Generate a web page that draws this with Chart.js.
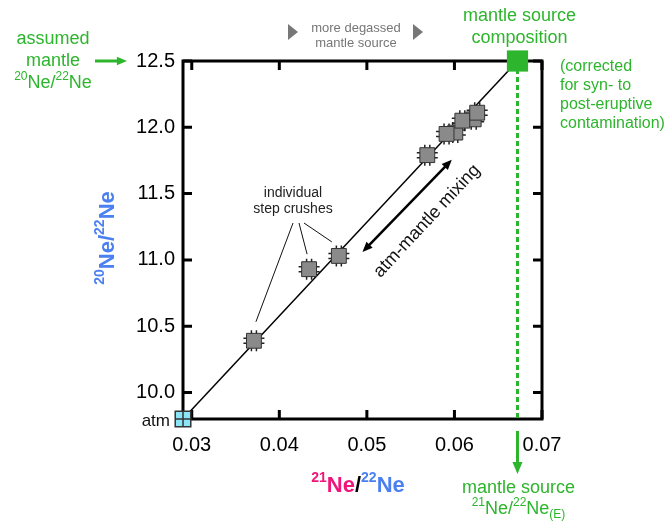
<!DOCTYPE html>
<html>
<head>
<meta charset="utf-8">
<script src="https://cdn.jsdelivr.net/npm/chart.js@4/dist/chart.umd.min.js"></script>
<style>
  body { margin: 0; background: #fff; }
  canvas { display: block; }
</style>
</head>
<body>
<canvas id="neonChart" width="666" height="521"></canvas>
<script>
// Ne isotope three-isotope plot: step crushes on the atm-mantle mixing line
const xTicks = [0.03, 0.04, 0.05, 0.06, 0.07];
const yTicks = [10.0, 10.5, 11.0, 11.5, 12.0, 12.5];

const atmX = 0.029, atmY = 9.8;
const mantleX = 0.0672, mantleY = 12.5;

// step crushes (drawn in this order, later ones on top)
const crushX = [0.0371, 0.0434, 0.0468, 0.0569, 0.0601, 0.0591, 0.0622, 0.0609, 0.0626];
const crushY = [10.39, 10.93, 11.03, 11.79, 11.96, 11.95, 12.06, 12.05, 12.11];

const FONT = '"Liberation Sans", Arial, sans-serif';
const GREEN = "#2db52d";
const PINK = "#f0157a";
const BLUE = "#4a80f0";

function rich(ctx, segs, x, y, size, align) {
  let w = 0;
  segs.forEach(s => {
    const fs = s.sup || s.sub ? Math.round(size * 0.65) : size;
    ctx.font = (s.bold ? "bold " : "") + fs + "px " + FONT;
    s.w = ctx.measureText(s.t).width;
    s.fs = fs;
    w += s.w;
  });
  let cx = align === "center" ? x - w / 2 : x;
  ctx.textAlign = "left";
  ctx.textBaseline = "middle";
  segs.forEach(s => {
    ctx.font = (s.bold ? "bold " : "") + s.fs + "px " + FONT;
    ctx.fillStyle = s.c;
    const dy = s.sup ? -size * 0.36 : s.sub ? size * 0.3 : 0;
    ctx.fillText(s.t, cx, y + dy);
    cx += s.w;
  });
}

function arrow(ctx, x1, y1, x2, y2, color, lw, head, both) {
  const a = Math.atan2(y2 - y1, x2 - x1);
  ctx.save();
  ctx.strokeStyle = color;
  ctx.fillStyle = color;
  ctx.lineWidth = lw;
  ctx.beginPath();
  ctx.moveTo(x1 + (both ? Math.cos(a) * head * 0.8 : 0), y1 + (both ? Math.sin(a) * head * 0.8 : 0));
  ctx.lineTo(x2 - Math.cos(a) * head * 0.8, y2 - Math.sin(a) * head * 0.8);
  ctx.stroke();
  const tip = (x, y, ang) => {
    ctx.beginPath();
    ctx.moveTo(x, y);
    ctx.lineTo(x - head * Math.cos(ang - 0.4), y - head * Math.sin(ang - 0.4));
    ctx.lineTo(x - head * Math.cos(ang + 0.4), y - head * Math.sin(ang + 0.4));
    ctx.closePath();
    ctx.fill();
  };
  tip(x2, y2, a);
  if (both) tip(x1, y1, a + Math.PI);
  ctx.restore();
}

const framePlugin = {
  id: "frame",
  beforeDatasetsDraw(chart) {
    const { ctx, chartArea: ca, scales } = chart;
    ctx.save();
    ctx.strokeStyle = "#000";
    ctx.lineWidth = 3;
    ctx.beginPath();
    xTicks.forEach(v => {
      const px = scales.x.getPixelForValue(v);
      ctx.moveTo(px, ca.bottom); ctx.lineTo(px, ca.bottom - 9);
      ctx.moveTo(px, ca.top); ctx.lineTo(px, ca.top + 9);
    });
    yTicks.forEach(v => {
      const py = scales.y.getPixelForValue(v);
      ctx.moveTo(ca.left, py); ctx.lineTo(ca.left + 9, py);
      ctx.moveTo(ca.right, py); ctx.lineTo(ca.right - 9, py);
    });
    ctx.stroke();
    ctx.strokeRect(ca.left, ca.top, ca.right - ca.left, ca.bottom - ca.top);

    // dashed projection of the mantle source down to the x axis
    const mx = scales.x.getPixelForValue(mantleX);
    ctx.strokeStyle = GREEN;
    ctx.setLineDash([5, 3]);
    ctx.beginPath();
    ctx.moveTo(mx, scales.y.getPixelForValue(mantleY));
    ctx.lineTo(mx, ca.bottom);
    ctx.stroke();
    ctx.setLineDash([]);

    // pins round each crush square
    ctx.strokeStyle = "#222";
    ctx.lineWidth = 1.5;
    ctx.beginPath();
    chart.getDatasetMeta(1).data.forEach(p => {
      const h = 7, l = 3.5;
      [-2.5, 2.5].forEach(o => {
        ctx.moveTo(p.x - h - l, p.y + o); ctx.lineTo(p.x + h + l, p.y + o);
        ctx.moveTo(p.x + o, p.y - h - l); ctx.lineTo(p.x + o, p.y + h + l);
      });
    });
    ctx.stroke();
    ctx.restore();
  },
  afterDatasetsDraw(chart) {
    const { ctx, chartArea: ca, scales } = chart;
    ctx.save();
    // cross inside the atm marker
    const a = chart.getDatasetMeta(2).data[0];
    ctx.strokeStyle = "#333";
    ctx.lineWidth = 1.5;
    ctx.beginPath();
    ctx.moveTo(a.x - 7.5, a.y); ctx.lineTo(a.x + 7.5, a.y);
    ctx.moveTo(a.x, a.y - 7.5); ctx.lineTo(a.x, a.y + 7.5);
    ctx.stroke();

    const pts = chart.getDatasetMeta(1).data;
    // callouts for the step crushes
    ctx.strokeStyle = "#111";
    ctx.lineWidth = 1;
    ctx.beginPath();
    [[0, 293, 2, -19], [1, 299, -2, -15], [2, 304, -7, -14]].forEach(([i, sx, ex, ey]) => {
      ctx.moveTo(sx, 223);
      ctx.lineTo(pts[i].x + ex, pts[i].y + ey);
    });
    ctx.stroke();
    ctx.font = "14px " + FONT;
    ctx.fillStyle = "#222";
    ctx.textAlign = "center";
    ctx.textBaseline = "middle";
    ctx.fillText("individual", 293, 193);
    ctx.fillText("step crushes", 293, 209);

    // mixing arrow and label
    const x = scales.x, y = scales.y;
    arrow(ctx, x.getPixelForValue(0.0495), y.getPixelForValue(11.06),
      x.getPixelForValue(0.0597), y.getPixelForValue(11.755), "#000", 2.5, 11, true);
    ctx.save();
    ctx.translate(427, 221);
    ctx.rotate(-47 * Math.PI / 180);
    ctx.font = "18px " + FONT;
    ctx.fillStyle = "#111";
    ctx.textAlign = "center";
    ctx.textBaseline = "middle";
    ctx.fillText("atm-mantle mixing", 0, 0);
    ctx.restore();

    // atm label
    ctx.font = "17px " + FONT;
    ctx.fillStyle = "#111";
    ctx.textAlign = "right";
    ctx.fillText("atm", a.x - 13, a.y + 2);

    // top: more degassed mantle source
    ctx.fillStyle = "#777";
    [[288, 32], [413, 32]].forEach(([tx, ty]) => {
      ctx.beginPath();
      ctx.moveTo(tx, ty - 8); ctx.lineTo(tx + 10, ty); ctx.lineTo(tx, ty + 8);
      ctx.closePath(); ctx.fill();
    });
    ctx.font = "13px " + FONT;
    ctx.textAlign = "center";
    ctx.fillText("more degassed", 356, 28);
    ctx.fillText("mantle source", 356, 43);

    // mantle source annotations
    const mx = x.getPixelForValue(mantleX);
    ctx.font = "18px " + FONT;
    ctx.fillStyle = GREEN;
    ctx.fillText("mantle source", mx + 2, 16);
    ctx.fillText("composition", mx + 2, 38);
    ctx.font = "16px " + FONT;
    ctx.textAlign = "left";
    ["(corrected", "for syn- to", "post-eruptive", "contamination)"].forEach((t, i) => {
      ctx.fillText(t, 560, 67 + i * 19);
    });
    arrow(ctx, mx, ca.bottom + 12, mx, 474, GREEN, 3, 13, false);
    ctx.textAlign = "center";
    ctx.font = "18px " + FONT;
    ctx.fillText("mantle source", mx + 1, 488);
    rich(ctx, [{ t: "21", sup: true, c: GREEN }, { t: "Ne/", c: GREEN }, { t: "22", sup: true, c: GREEN },
      { t: "Ne", c: GREEN }, { t: "(E)", sub: true, c: GREEN }], mx + 1, 509, 18, "center");

    // assumed mantle
    const my = y.getPixelForValue(mantleY);
    ctx.font = "18px " + FONT;
    ctx.fillStyle = GREEN;
    ctx.textAlign = "center";
    ctx.fillText("assumed", 53, 39);
    ctx.fillText("mantle", 53, 61);
    rich(ctx, [{ t: "20", sup: true, c: GREEN }, { t: "Ne/", c: GREEN }, { t: "22", sup: true, c: GREEN },
      { t: "Ne", c: GREEN }], 53, 83, 18, "center");
    arrow(ctx, 95, my, 127, my, GREEN, 3, 11, false);

    // axis titles
    rich(ctx, [{ t: "21", sup: true, bold: true, c: PINK }, { t: "Ne", bold: true, c: PINK },
      { t: "/", bold: true, c: "#000" }, { t: "22", sup: true, bold: true, c: BLUE },
      { t: "Ne", bold: true, c: BLUE }], 358, 486, 22, "center");
    ctx.save();
    ctx.translate(108, 238);
    ctx.rotate(-Math.PI / 2);
    rich(ctx, [{ t: "20", sup: true, bold: true, c: BLUE }, { t: "Ne/", bold: true, c: BLUE },
      { t: "22", sup: true, bold: true, c: BLUE }, { t: "Ne", bold: true, c: BLUE }], 0, 0, 22, "center");
    ctx.restore();
    ctx.restore();
  }
};

document.addEventListener("DOMContentLoaded", function () {
  const ctx = document.getElementById("neonChart").getContext("2d");
  new Chart(ctx, {
    type: "scatter",
    data: {
      datasets: [
        {
          data: [{ x: atmX, y: atmY }, { x: mantleX, y: mantleY }],
          showLine: true,
          borderColor: "#000",
          borderWidth: 1.5,
          pointRadius: 0,
          clip: false,
          order: 10
        },
        {
          data: crushX.map((v, i) => ({ x: v, y: crushY[i] })),
          pointStyle: "rect",
          pointRadius: 10.5,
          backgroundColor: "#8a8a8a",
          borderColor: "#333",
          borderWidth: 1,
          clip: false,
          order: 5
        },
        {
          data: [{ x: atmX, y: atmY }],
          pointStyle: "rect",
          pointRadius: 11,
          backgroundColor: "#8ae6f6",
          borderColor: "#333",
          borderWidth: 1.5,
          clip: false,
          order: 1
        },
        {
          data: [{ x: mantleX, y: mantleY }],
          pointStyle: "rect",
          pointRadius: 15,
          backgroundColor: GREEN,
          borderColor: GREEN,
          borderWidth: 0,
          clip: false,
          order: 1
        }
      ]
    },
    options: {
      responsive: false,
      animation: false,
      layout: { padding: { top: 61, right: 124, left: 0, bottom: 0 } },
      plugins: { legend: { display: false }, tooltip: { enabled: false } },
      scales: {
        x: {
          type: "linear",
          min: 0.029,
          max: 0.07,
          afterBuildTicks: s => { s.ticks = xTicks.map(v => ({ value: v })); },
          afterFit: s => { s.height = 102; },
          grid: { display: false, drawTicks: false },
          border: { display: false },
          ticks: {
            font: { family: FONT, size: 20 },
            color: "#000",
            padding: 14,
            maxRotation: 0,
            autoSkip: false,
            callback: v => v.toFixed(2)
          }
        },
        y: {
          type: "linear",
          min: 9.8,
          max: 12.5,
          afterBuildTicks: s => { s.ticks = yTicks.map(v => ({ value: v })); },
          afterFit: s => { s.width = 183; },
          grid: { display: false, drawTicks: false },
          border: { display: false },
          ticks: {
            font: { family: FONT, size: 20 },
            color: "#000",
            padding: 8,
            autoSkip: false,
            callback: v => v.toFixed(1)
          }
        }
      }
    },
    plugins: [framePlugin]
  });
});
</script>
</body>
</html>
